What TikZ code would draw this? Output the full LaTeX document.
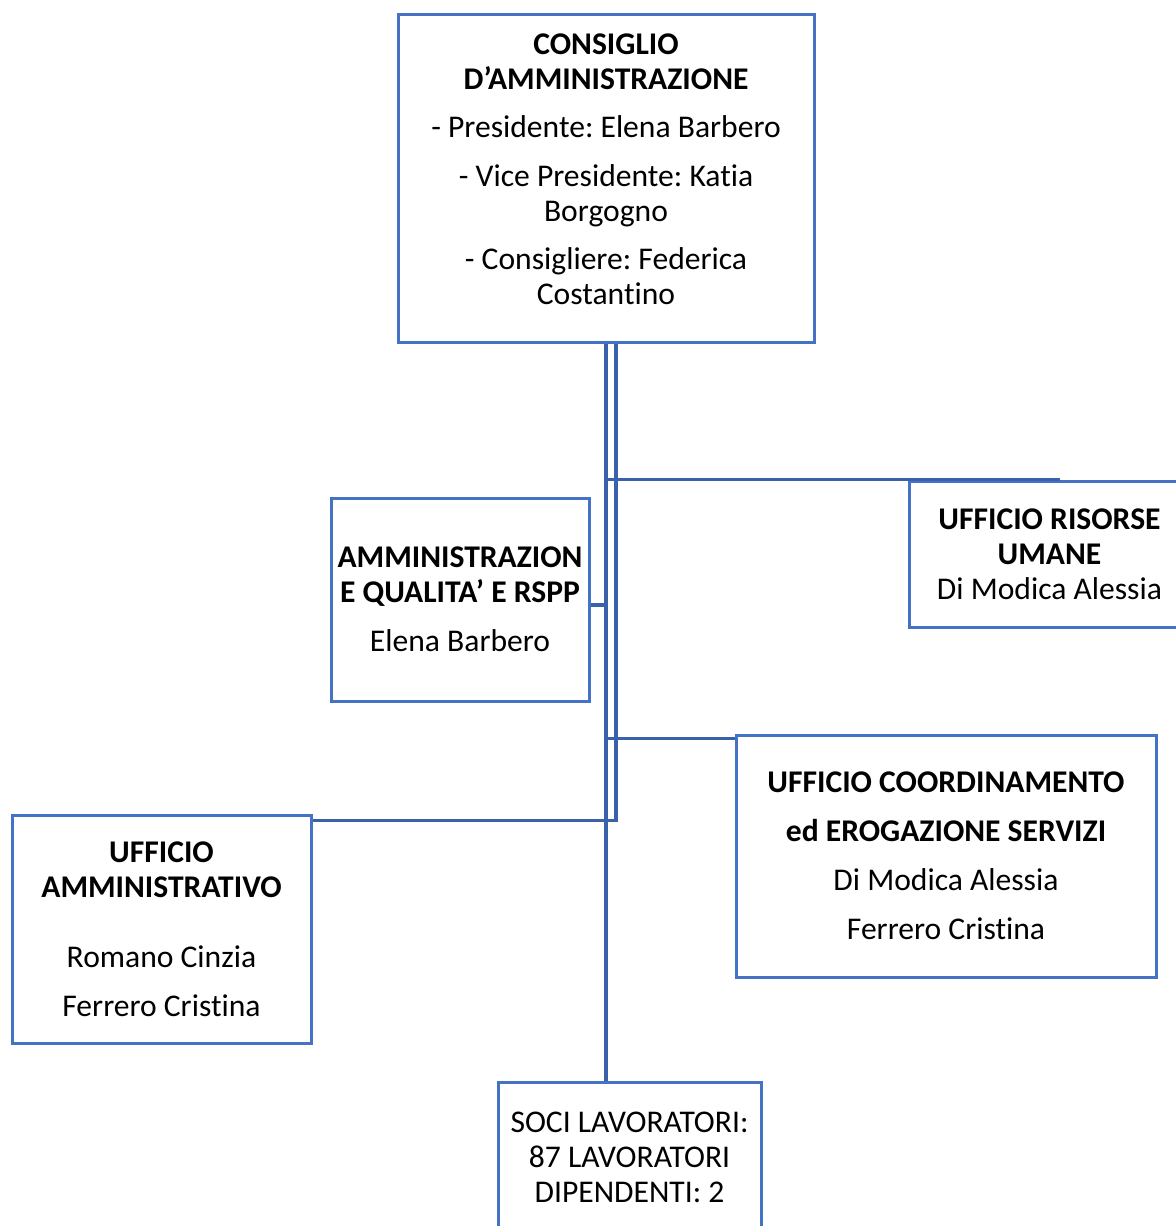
\documentclass[tikz,border=0pt]{standalone}
\usepackage{fontspec}
\setmainfont{Carlito}[RawFeature={-liga;-clig;-calt;-dlig}]
\frenchspacing
\usetikzlibrary{positioning}
\definecolor{boxblue}{HTML}{4472C4}
\definecolor{linkblue}{HTML}{3A62AA}
\tikzset{
  ufficio/.style={draw=boxblue, line width=1.5pt, inner sep=0pt, align=center,
    font=\fontsize{15.8}{17.5}\selectfont},
  link/.style={draw=linkblue, line width=1.7pt}
}

\begin{document}
\begin{tikzpicture}[x=0.5pt, y=-0.5pt]
                %page frame, boxes on the right and bottom run off the page
                \useasboundingbox (0,0) rectangle (1176,1226);
                \clip (0,0) rectangle (1176,1226);

                %the boxes
                \node[ufficio, minimum width=208pt, minimum height=164pt] (cda) at (606,178)
                {\textbf{CONSIGLIO}\\\textbf{D’AMMINISTRAZIONE}\\[6.5pt]
                 - Presidente: Elena Barbero\\[7pt]
                 - Vice Presidente: Katia\\Borgogno\\[6.5pt]
                 - Consigliere: Federica\\Costantino\rule[-9pt]{0pt}{9pt}};
                \node[ufficio, minimum width=129pt, minimum height=101.5pt] (amm) at (460,599.5)
                {\textbf{AMMINISTRAZION}\\\textbf{E QUALITA’ E RSPP}\\[7pt]Elena Barbero};
                \node[ufficio, minimum width=140.5pt, minimum height=73pt] (ris) at (1049.5,554)
                {\textbf{UFFICIO RISORSE}\\\textbf{UMANE}\\Di Modica Alessia};
                \node[ufficio, minimum width=210pt, minimum height=121pt] (coord) at (946,856)
                {\textbf{UFFICIO COORDINAMENTO}\\[7pt]\textbf{ed EROGAZIONE SERVIZI}\\[7pt]
                 Di Modica Alessia\\[7pt]Ferrero Cristina};
                \node[ufficio, minimum width=149.5pt, minimum height=114pt] (uamm) at (161.5,929)
                {\textbf{UFFICIO}\\\textbf{AMMINISTRATIVO}\\[17.5pt]Romano Cinzia\\[7pt]Ferrero Cristina};
                \node[ufficio, minimum width=131.5pt, minimum height=75pt] (soci) at (629.5,1157)
                {SOCI LAVORATORI:\\87 LAVORATORI\\DIPENDENTI: 2};

                %the two lines down from the board
                \draw[link] (cda.south) -- (cda.south |- soci.north);
                \draw[link] ([xshift=5pt]cda.south) |- ([yshift=-3.5pt]uamm.north east);

                %branches
                \draw[link] (cda.south |- ris.north) -- ([xshift=5pt]ris.north);
                \draw[link] ([yshift=-2.75pt]amm.east) coordinate (a1) -- (a1 -| cda.south);
                \draw[link] ([yshift=-2.5pt]coord.north west) coordinate (c1) -- (c1 -| cda.south);
            \end{tikzpicture}
\end{document}
